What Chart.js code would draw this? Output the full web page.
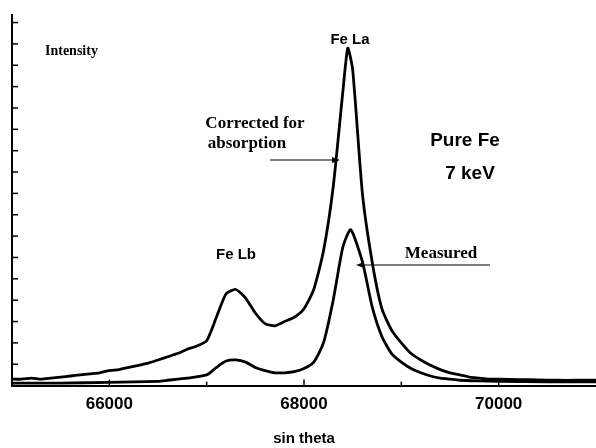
<!DOCTYPE html>
<html><head><meta charset="utf-8">
<script src="https://cdn.jsdelivr.net/npm/chart.js@4"></script>
<style>html,body{margin:0;padding:0;background:#fff}#w{width:596px;height:448px}</style>
</head><body><div id="w"><canvas id="c"></canvas></div>
<script>
const xCorrected=[65000,65100,65200,65300,65400,65500,65600,65700,65800,65900,66000,66100,66200,66300,66400,66500,66600,66700,66800,66900,67000,67100,67200,67300,67400,67500,67600,67700,67800,67900,68000,68100,68200,68300,68400,68450,68500,68600,68700,68800,68900,69000,69100,69200,69300,69400,69500,69600,69700,69800,69900,70000,70200,70400,70600,70800,71000];
const yCorrected=[0.3,0.3,0.35,0.3,0.35,0.4,0.45,0.5,0.55,0.6,0.7,0.75,0.85,0.95,1.05,1.2,1.35,1.5,1.7,1.85,2.1,3.2,4.3,4.5,4.1,3.4,2.9,2.8,3.0,3.2,3.6,4.5,6.3,9.3,13.8,15.8,14.8,9.0,5.8,3.6,2.6,2.0,1.5,1.2,0.95,0.75,0.6,0.5,0.4,0.35,0.3,0.3,0.28,0.27,0.25,0.25,0.25];
const xMeasured=[65000,65500,66000,66500,66600,66800,67000,67100,67200,67300,67400,67500,67600,67700,67800,67900,68000,68100,68200,68300,68400,68480,68600,68700,68800,68900,69000,69100,69200,69300,69400,69500,69600,69800,70000,70500,71000];
const yMeasured=[0.12,0.12,0.15,0.2,0.25,0.35,0.5,0.85,1.15,1.2,1.1,0.85,0.7,0.6,0.6,0.65,0.8,1.1,2.0,4.0,6.5,7.3,5.8,3.7,2.3,1.5,1.1,0.8,0.6,0.45,0.35,0.3,0.25,0.22,0.2,0.18,0.18];
const xTicks=[66000,68000,70000];
const zip=(a,b)=>a.map((x,i)=>({x:x,y:b[i]}));
const deco={id:'deco',afterDraw(ch){
 const c=ch.ctx,xs=ch.scales.x,ys=ch.scales.y,a=ch.chartArea;
 c.save();c.strokeStyle='#000';c.fillStyle='#000';c.lineWidth=2;
 c.beginPath();c.moveTo(a.left,a.bottom);c.lineTo(a.left,a.top);c.stroke();
 c.lineWidth=1.5;
 for(let v=0;v<=17;v++){const y=ys.getPixelForValue(v);c.beginPath();c.moveTo(a.left,y);c.lineTo(a.left+6,y);c.stroke();}
 for(let v=66000;v<=70000;v+=1000){const x=xs.getPixelForValue(v);c.beginPath();c.moveTo(x,a.bottom);c.lineTo(x,a.bottom-(v%2000?4:6));c.stroke();}
 c.textAlign='left';c.textBaseline='alphabetic';
 c.font='bold 14px "Liberation Serif"';c.fillText('Intensity',45,55);
 c.font='bold 17px "Liberation Serif"';c.textAlign='center';
 c.fillText('Corrected for',255,128);c.fillText('absorption',247,148);
 c.fillText('Measured',441,258);
 c.font='bold 15px "Liberation Sans"';c.fillText('Fe La',350,44);c.fillText('Fe Lb',236,259);
 c.font='bold 19px "Liberation Sans"';c.fillText('Pure Fe',465,146);c.fillText('7 keV',470,179);
 c.lineWidth=1.2;
 c.beginPath();c.moveTo(270,160);c.lineTo(336,160);c.stroke();
 c.beginPath();c.moveTo(340,160);c.lineTo(332,157);c.lineTo(332,163);c.fill();
 c.beginPath();c.moveTo(490,265);c.lineTo(360,265);c.stroke();
 c.beginPath();c.moveTo(356,265);c.lineTo(364,262);c.lineTo(364,268);c.fill();
 c.restore();}};
new Chart(document.getElementById('c'),{type:'line',
 data:{datasets:[
  {data:zip(xCorrected,yCorrected),borderColor:'#000',borderWidth:2.8,pointRadius:0,tension:0.2,fill:false},
  {data:zip(xMeasured,yMeasured),borderColor:'#000',borderWidth:2.8,pointRadius:0,tension:0.2,fill:false}]},
 options:{responsive:true,maintainAspectRatio:false,animation:false,
  layout:{padding:{left:12,top:14,right:0,bottom:0}},
  plugins:{legend:{display:false},tooltip:{enabled:false}},
  scales:{
   x:{type:'linear',min:65000,max:71000,afterBuildTicks(s){s.ticks=xTicks.map(v=>({value:v}));},
    grid:{display:false,drawTicks:false},border:{color:'#000',width:2},
    ticks:{color:'#000',font:{family:'Liberation Sans',weight:'bold',size:17},padding:9,callback:v=>String(v)},
    title:{display:true,text:'sin theta',color:'#000',font:{family:'Liberation Sans',weight:'bold',size:15},padding:{top:6,bottom:0}}},
   y:{display:false,min:0,max:17.4}}}
 ,plugins:[deco]});
</script></body></html>
